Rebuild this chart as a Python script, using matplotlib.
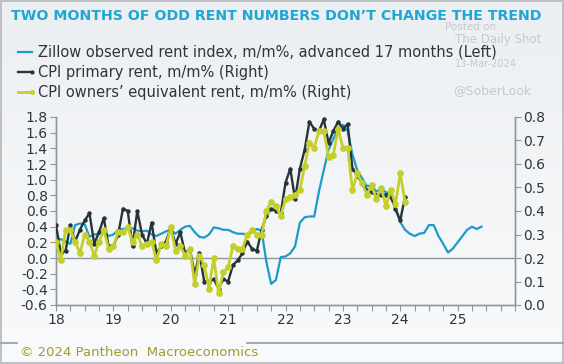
import numpy as np
import pandas as pd
import matplotlib
matplotlib.use("Agg")
import matplotlib.pyplot as plt
from matplotlib.lines import Line2D
from matplotlib.ticker import MultipleLocator, FormatStrFormatter

plt.rcParams["font.family"] = ["DejaVu Sans"]
plt.rcParams["axes.unicode_minus"] = False

# Zillow observed rent index, m/m%, advanced 17 months (left axis), Jan-18 .. Jun-25
zillow = [
    0.25, 0.24, 0.21, 0.18, 0.42, 0.44, 0.43, 0.27, 0.30, 0.31, 0.33, 0.28,
    0.30, 0.36, 0.37, 0.38, 0.38, 0.35, 0.34, 0.35, 0.30, 0.28, 0.31, 0.34,
    0.36, 0.31, 0.36, 0.40, 0.41, 0.33, 0.27, 0.26, 0.30, 0.39, 0.38, 0.36,
    0.36, 0.33, 0.31, 0.31, 0.30, 0.33, 0.37, 0.35, -0.05, -0.33, -0.28, 0.01,
    0.02, 0.06, 0.15, 0.45, 0.52, 0.53, 0.53, 0.85, 1.12, 1.38, 1.52, 1.65,
    1.70, 1.62, 1.32, 1.12, 1.02, 0.92, 0.92, 0.85, 0.88, 0.84, 0.82, 0.62,
    0.46, 0.36, 0.31, 0.28, 0.31, 0.32, 0.42, 0.42, 0.28, 0.18, 0.07, 0.12,
    0.20, 0.28, 0.36, 0.40, 0.37, 0.40,
]

# CPI primary rent, m/m% (right axis), Jan-18 .. Feb-24
cpi_rent = [
    0.34, 0.22, 0.23, 0.34, 0.27, 0.32, 0.36, 0.39, 0.26, 0.31, 0.37, 0.25,
    0.25, 0.30, 0.41, 0.40, 0.25, 0.40, 0.30, 0.26, 0.35, 0.22, 0.25, 0.27,
    0.33, 0.26, 0.31, 0.22, 0.24, 0.13, 0.22, 0.10, 0.10, 0.11, 0.07, 0.11,
    0.10, 0.17, 0.19, 0.22, 0.27, 0.24, 0.23, 0.32, 0.38, 0.41, 0.40, 0.39,
    0.52, 0.58, 0.45, 0.58, 0.66, 0.78, 0.75, 0.74, 0.79, 0.69, 0.74, 0.78,
    0.75, 0.77, 0.58, 0.55, 0.52, 0.49, 0.48, 0.47, 0.47, 0.47, 0.46, 0.41,
    0.36, 0.46,
]

# CPI owners' equivalent rent, m/m% (right axis), Jan-18 .. Feb-24
cpi_oer = [
    0.27, 0.19, 0.32, 0.32, 0.27, 0.22, 0.30, 0.27, 0.21, 0.27, 0.32, 0.24,
    0.25, 0.31, 0.31, 0.33, 0.27, 0.30, 0.25, 0.26, 0.27, 0.19, 0.26, 0.25,
    0.33, 0.23, 0.25, 0.21, 0.24, 0.09, 0.21, 0.17, 0.07, 0.20, 0.05, 0.14,
    0.16, 0.25, 0.24, 0.24, 0.30, 0.32, 0.30, 0.30, 0.40, 0.44, 0.42, 0.38,
    0.45, 0.46, 0.47, 0.49, 0.59, 0.69, 0.67, 0.74, 0.74, 0.63, 0.64, 0.75,
    0.67, 0.67, 0.49, 0.56, 0.52, 0.47, 0.51, 0.45, 0.50, 0.42, 0.49, 0.43,
    0.56, 0.44,
]

year_ticks = [2018, 2019, 2020, 2021, 2022, 2023, 2024, 2025]
year_labels = ["18", "19", "20", "21", "22", "23", "24", "25"]

labels = [
    "Zillow observed rent index, m/m%, advanced 17 months (Left)",
    "CPI primary rent, m/m% (Right)",
    "CPI owners\u2019 equivalent rent, m/m% (Right)",
]


def decimal_years(start, n):
    d = pd.date_range(start, periods=n, freq="MS")
    return d.year + (d.month - 1) / 12.0


x_z = decimal_years("2018-01-01", len(zillow))
x_c = decimal_years("2018-01-01", len(cpi_rent))

BLUE = "#1b9cc8"
DARK = "#26343a"
YELLOW = "#c4cf2a"
GRID = "#8e979d"
TXT = "#2f353a"

fig = plt.figure(figsize=(5.64, 3.64), dpi=100)

# light gradient background
bg = fig.add_axes([0, 0, 1, 1], zorder=-10)
grad = np.linspace(0, 1, 256).reshape(-1, 1)
bg.imshow(grad, aspect="auto", cmap=matplotlib.colors.LinearSegmentedColormap.from_list(
    "bg", ["#eceff2", "#f9fafb"]), extent=[0, 1, 0, 1])
bg.set_xlim(0, 1)
bg.set_ylim(0, 1)
bg.axis("off")
bg.add_patch(plt.Rectangle((0.001, 0.002), 0.997, 0.996, fill=False,
                           edgecolor="#b4b8bb", lw=1.2, transform=bg.transAxes))

ax = fig.add_axes([56 / 564, 1 - 305 / 364, (515 - 56) / 564, (305 - 117) / 364])
ax.patch.set_alpha(0)
ax2 = ax.twinx()

ax.plot(x_z, zillow, color=BLUE, lw=1.6, zorder=3)
ax.axhline(0, color=GRID, lw=1.0, zorder=2)

ax2.plot(x_c, cpi_rent, color=DARK, lw=1.7, marker="o", ms=2.2, zorder=4)
ax2.plot(x_c, cpi_oer, color=YELLOW, lw=2.0, marker="o", ms=3.8, zorder=5)

ax.set_xlim(2018, 2026)
ax.set_ylim(-0.6, 1.8)
ax2.set_ylim(0, 0.8)

ax.yaxis.set_major_locator(MultipleLocator(0.2))
ax.yaxis.set_major_formatter(FormatStrFormatter("%.1f"))
ax2.yaxis.set_major_locator(MultipleLocator(0.1))
ax2.yaxis.set_major_formatter(FormatStrFormatter("%.1f"))

ax.set_xticks(year_ticks)
ax.set_xticklabels(year_labels)
ax.xaxis.set_minor_locator(MultipleLocator(0.25))

for a in (ax, ax2):
    for s in a.spines.values():
        s.set_color(GRID)
        s.set_linewidth(1.0)
    a.spines["top"].set_visible(False)
    a.tick_params(axis="both", which="both", color=GRID, length=4, width=0.8,
                  labelsize=10, labelcolor=TXT, pad=2)

# footer
fig.add_artist(Line2D([0, 17 / 564], [1 - 343 / 364] * 2, color="#a3aab0", lw=1.5))
fig.add_artist(Line2D([247 / 564, 1], [1 - 343 / 364] * 2, color="#a3aab0", lw=1.5))
fig.text(20 / 564, 1 - 352 / 364, "\u00a9 2024 Pantheon  Macroeconomics",
         color="#a09c2c", fontsize=9.5, va="center")

# title
fig.text(11 / 564, 1 - 16 / 364, "TWO MONTHS OF ODD RENT NUMBERS DON\u2019T CHANGE THE TREND",
         color="#1ea6d4", fontsize=10.2, fontweight="bold", va="center")

# legend
rows = [52, 72, 92]
styles = [dict(color=BLUE, lw=1.6), dict(color=DARK, lw=1.7, marker="o", ms=2),
          dict(color=YELLOW, lw=2.0, marker="o", ms=2.5)]
for y, lab, st in zip(rows, labels, styles):
    yy = 1 - y / 364
    fig.add_artist(Line2D([18 / 564, 32 / 564], [yy, yy], markevery=[1] if "marker" in st else None,
                          **st))
    fig.text(38 / 564, yy, lab, color=TXT, fontsize=10.5, va="center")

# watermark
wm = "#c6c9cc"
fig.text(445 / 564, 1 - 27 / 364, "Posted on", color=wm, fontsize=7.5, va="center")
fig.text(455 / 564, 1 - 39 / 364, "The Daily Shot", color=wm, fontsize=8.5, va="center")
fig.text(455 / 564, 1 - 64 / 364, "13-Mar-2024", color=wm, fontsize=7, va="center")
fig.text(453 / 564, 1 - 91 / 364, "@SoberLook", color=wm, fontsize=9, va="center")

fig.savefig("out.png", dpi=100)
